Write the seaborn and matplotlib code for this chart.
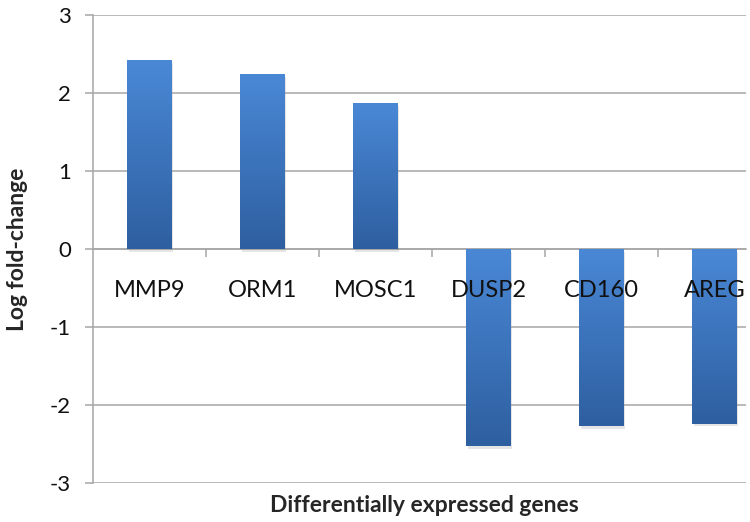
import numpy as np
import pandas as pd
import matplotlib
matplotlib.use("Agg")
import matplotlib.pyplot as plt
import matplotlib.patheffects as pe
import seaborn as sns
from matplotlib.colors import LinearSegmentedColormap
from matplotlib.ticker import FixedLocator

# ---------------------------------- DATA ----------------------------------
genes = ["MMP9", "ORM1", "MOSC1", "DUSP2", "CD160", "AREG"]
log_fc = [2.42, 2.24, 1.87, -2.53, -2.27, -2.24]
y_ticks = [-3, -2, -1, 0, 1, 2, 3]

df = pd.DataFrame({"gene": genes, "log_fc": log_fc})

# --------------------------------- STYLE ----------------------------------
sns.set_style("white")
plt.rcParams["font.family"] = ["Lato", "DejaVu Sans"]
plt.rcParams["axes.unicode_minus"] = False
GRID = "#a6a6a6"

fig = plt.figure(figsize=(7.5, 5.22), dpi=100)
ax = fig.add_axes([93 / 750, 39 / 522, 653 / 750, 468 / 522])

sns.barplot(data=df, x="gene", y="log_fc", color="#3b73c0", width=0.39,
            linewidth=0, ax=ax, zorder=3)

# Excel-like vertical gradient inside each bar
grad = LinearSegmentedColormap.from_list("bar", ["#4a88d6", "#2e5fa0"])
for p in ax.patches:
    x0, y0 = p.get_x(), p.get_y()
    w, h = p.get_width(), p.get_height()
    ylo, yhi = min(y0, y0 + h), max(y0, y0 + h)
    p.set_linewidth(0)
    p.set_path_effects([pe.SimplePatchShadow(offset=(1, -2), shadow_rgbFace="#999999", alpha=0.25),
                        pe.Normal()])
    im = ax.imshow(np.linspace(0, 1, 256).reshape(-1, 1), cmap=grad,
                   extent=[x0, x0 + w, ylo, yhi], aspect="auto",
                   origin="upper", zorder=3.5)
    im.set_clip_path(p)

ax.set_xlim(-0.5, 5.28)
ax.set_ylim(-3, 3)
ax.set_yticks(y_ticks)
ax.yaxis.grid(True, color=GRID, lw=1.1)
ax.set_axisbelow(True)
ax.xaxis.set_zorder(5)

for s in ["top", "right"]:
    ax.spines[s].set_visible(False)
ax.spines["left"].set_color(GRID)
ax.spines["left"].set_linewidth(1.1)
ax.spines["bottom"].set_position(("data", 0))
ax.spines["bottom"].set_color(GRID)
ax.spines["bottom"].set_linewidth(1.1)

ax.tick_params(axis="y", length=6, width=1.1, color=GRID, pad=10,
               labelsize=16, labelcolor="#111111", left=True)
ax.tick_params(axis="x", which="major", length=0, pad=22,
               labelsize=17, labelcolor="#111111")
ax.xaxis.set_minor_locator(FixedLocator([0.5, 1.5, 2.5, 3.5, 4.5]))
ax.tick_params(axis="x", which="minor", length=6, width=1.1, color=GRID,
               direction="out", bottom=True)

ax.set_xlabel("Differentially expressed genes", fontsize=16.5, fontweight="bold")
ax.set_ylabel("Log fold-change", fontsize=16.5, fontweight="bold")
ax.xaxis.set_label_coords(0.507, -0.025)
ax.yaxis.set_label_coords(-0.1, 0.5)

fig.savefig("out.png", dpi=100)
